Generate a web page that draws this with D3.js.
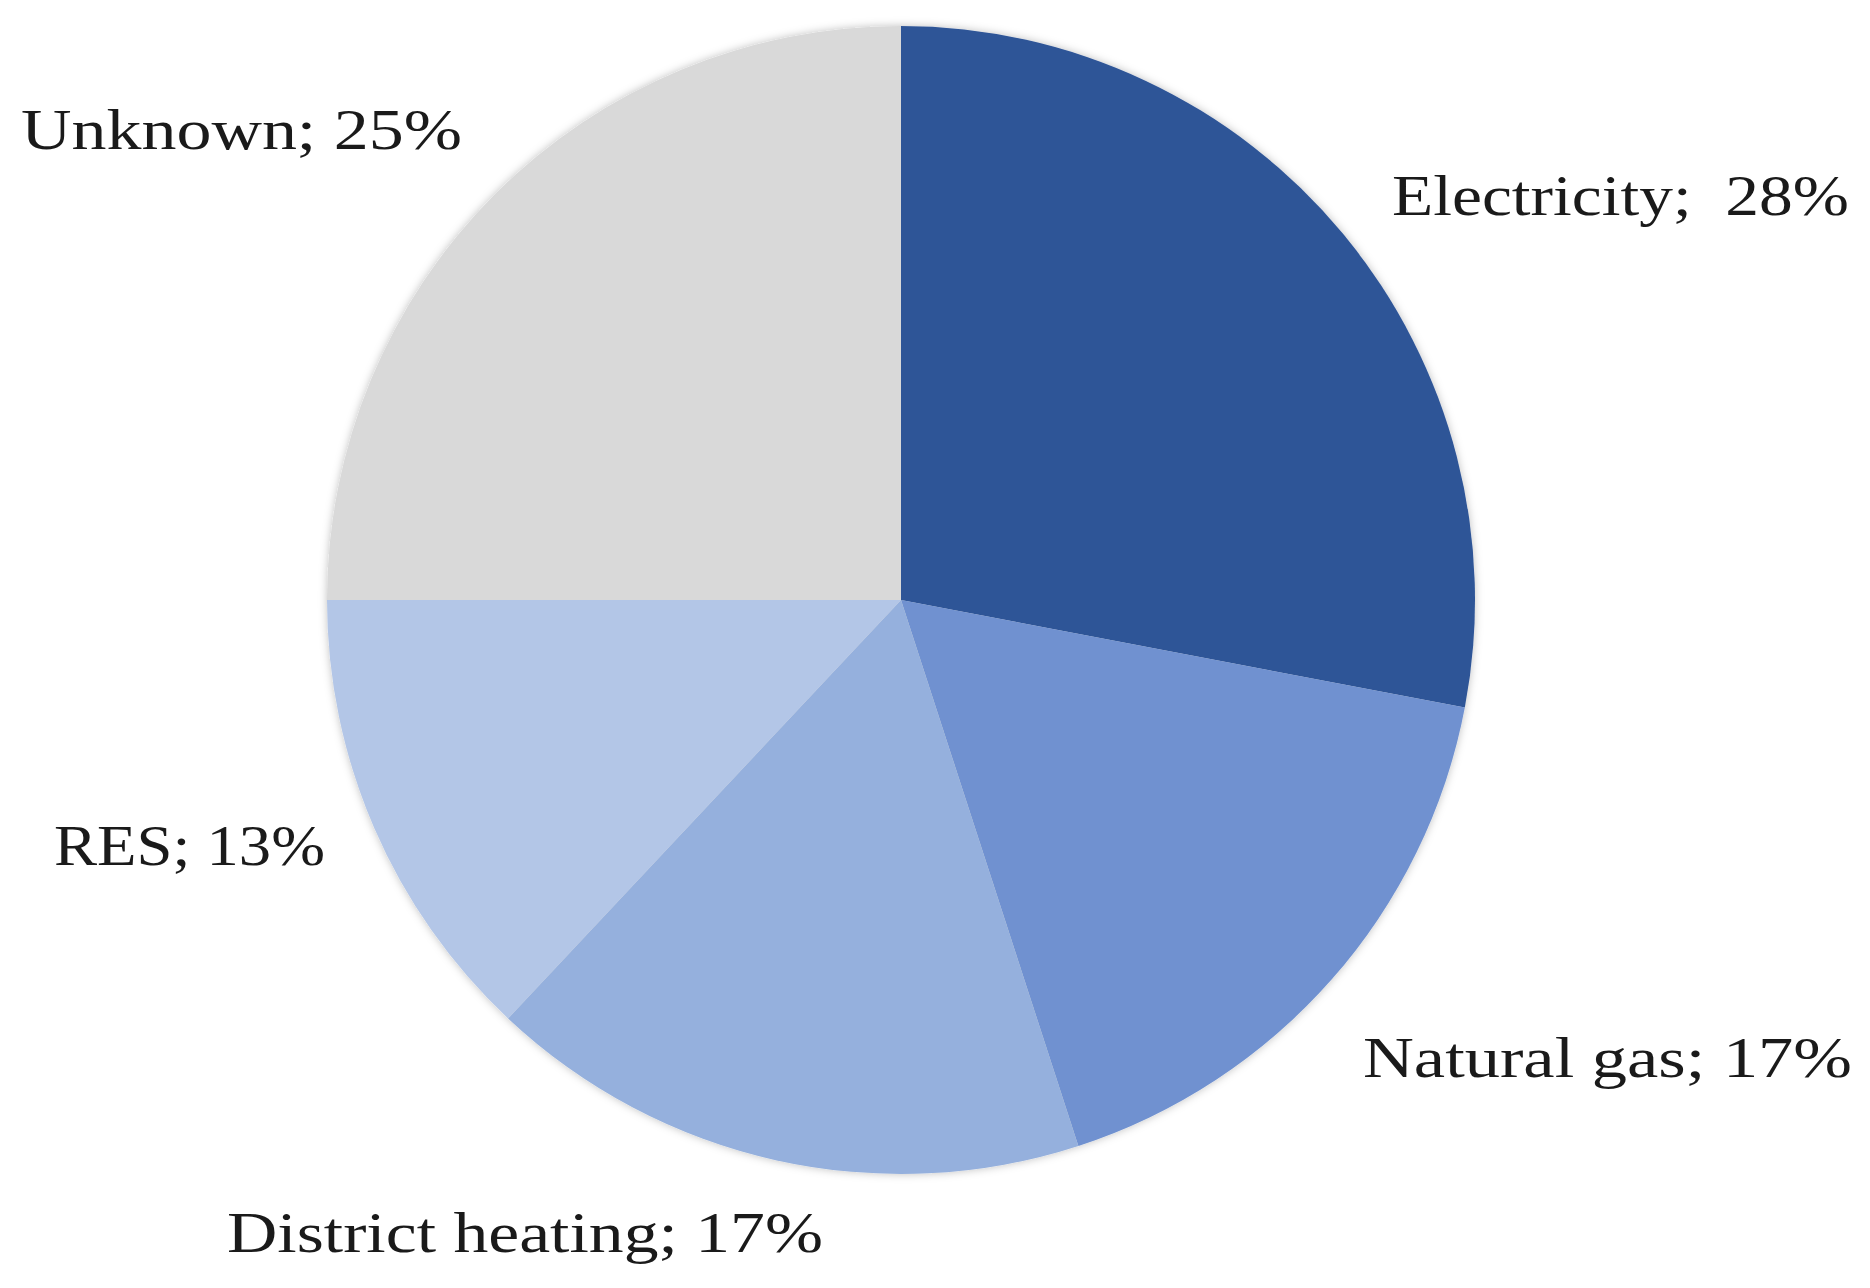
<!DOCTYPE html>
<html>
<head>
<meta charset="utf-8">
<script src="https://cdn.jsdelivr.net/npm/d3@7"></script>
<style>
  body { margin: 0; background: #fff; }
  text { font-family: "Liberation Serif", "DejaVu Serif", serif; fill: #1a1a1a; }
</style>
</head>
<body>
<svg id="chart"></svg>
<script>
const categories = ["Electricity", "Natural gas", "District heating", "RES", "Unknown"];
const values = [28, 17, 17, 13, 25];
const colors = ["#2F5597", "#6F91D0", "#95B0DD", "#B3C6E7", "#D9D9D9"];
const labelTexts = ["Electricity;  28%", "Natural gas; 17%", "District heating; 17%", "RES; 13%", "Unknown; 25%"];

// label layout: left x, baseline y, width
const labelPos = [
  [1392, 215, 457],
  [1363, 1077, 489],
  [227, 1252, 596],
  [54, 865, 271],
  [21, 149, 441]
];

const width = 1870, height = 1288;
const cx = 901, cy = 600, radius = 574;

const svg = d3.select("#chart").attr("width", width).attr("height", height);

const defs = svg.append("defs");
const f = defs.append("filter").attr("id", "shadow").attr("x", "-10%").attr("y", "-10%").attr("width", "120%").attr("height", "120%");
f.append("feDropShadow").attr("dx", 0).attr("dy", 0).attr("stdDeviation", 4).attr("flood-color", "#000").attr("flood-opacity", 0.25);

const pie = d3.pie().sort(null).value(d => d)(values);
const arc = d3.arc().innerRadius(0).outerRadius(radius);

const g = svg.append("g").attr("transform", `translate(${cx},${cy})`).attr("filter", "url(#shadow)");
g.selectAll("path")
  .data(pie)
  .join("path")
  .attr("d", arc)
  .attr("fill", (d, i) => colors[i]);

svg.selectAll("text.lbl")
  .data(labelTexts)
  .join("text")
  .attr("class", "lbl")
  .attr("x", (d, i) => labelPos[i][0])
  .attr("y", (d, i) => labelPos[i][1])
  .attr("font-size", 58)
  .attr("textLength", (d, i) => labelPos[i][2])
  .attr("lengthAdjust", "spacingAndGlyphs")
  .style("white-space", "pre")
  .text(d => d);
</script>
</body>
</html>
